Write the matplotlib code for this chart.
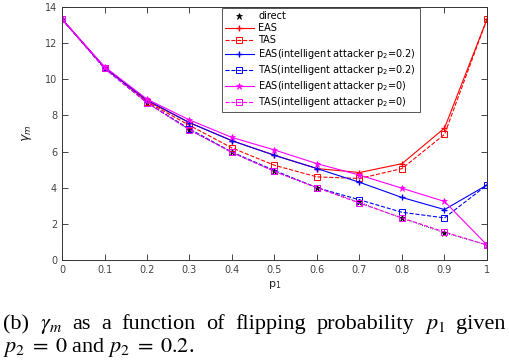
import matplotlib
matplotlib.use("Agg")
import matplotlib.pyplot as plt

p1 = [0, 0.1, 0.2, 0.3, 0.4, 0.5, 0.6, 0.7, 0.8, 0.9, 1.0]
direct = [13.33, 10.65, 8.7, 7.2, 5.95, 4.9, 4.0, 3.2, 2.3, 1.5, 0.83]
eas = [13.33, 10.65, 8.8, 7.6, 6.6, 5.8, 5.06, 4.84, 5.33, 7.3, 13.33]
tas = [13.33, 10.65, 8.75, 7.45, 6.2, 5.24, 4.6, 4.51, 5.06, 6.95, 13.33]
eas_p02 = [13.33, 10.65, 8.85, 7.6, 6.6, 5.79, 5.06, 4.3, 3.46, 2.79, 4.15]
tas_p02 = [13.33, 10.6, 8.7, 7.25, 5.97, 4.95, 4.0, 3.33, 2.64, 2.33, 4.15]
eas_p0 = [13.33, 10.7, 8.9, 7.75, 6.78, 6.09, 5.33, 4.7, 3.97, 3.24, 0.83]
tas_p0 = [13.33, 10.6, 8.7, 7.2, 5.95, 4.9, 4.0, 3.15, 2.33, 1.55, 0.83]

labels = ["direct", "EAS", "TAS",
          "EAS(intelligent attacker p$_2$=0.2)",
          "TAS(intelligent attacker p$_2$=0.2)",
          "EAS(intelligent attacker p$_2$=0)",
          "TAS(intelligent attacker p$_2$=0)"]
xticklabels = ['0', '0.1', '0.2', '0.3', '0.4', '0.5', '0.6', '0.7', '0.8', '0.9', '1']
caption_words = ["(b)", r"$\gamma_m$", "as", "a", "function", "of", "flipping",
                 "probability", r"$p_1$", "given"]
caption_line2 = r"$p_2\;=\;0$ and $p_2\;=\;0.2$."

W, H = 510, 360
fig = plt.figure(figsize=(W/100, H/100), dpi=100)
ax = fig.add_axes([62/W, 1-260/H, (487-62)/W, (260-7)/H])

lw = 0.8
ax.plot(p1, direct, color='k', lw=0.6, ls=':')
ax.plot(p1, direct, color='k', ls='none', marker='*', ms=4.5, mew=0.5, label=labels[0])
ax.plot(p1, eas, color='red', lw=lw, ls='-', marker='+', ms=5, label=labels[1])
ax.plot(p1, tas, color='red', lw=lw, ls='--', marker='s', ms=4, mfc='none', mew=0.7, label=labels[2])
ax.plot(p1, eas_p02, color='blue', lw=lw, ls='-', marker='+', ms=5, label=labels[3])
ax.plot(p1, tas_p02, color='blue', lw=lw, ls='--', marker='s', ms=4, mfc='none', mew=0.7, label=labels[4])
ax.plot(p1, eas_p0, color='magenta', lw=lw, ls='-', marker='*', ms=4.5, mew=0.5, label=labels[5])
ax.plot(p1, tas_p0, color='magenta', lw=lw, ls='--', marker='s', ms=4, mfc='none', mew=0.7, label=labels[6])

ax.set_xlim(0, 1)
ax.set_ylim(0, 14)
ax.set_xticks(p1)
ax.set_xticklabels(xticklabels)
ax.set_yticks(range(0, 15, 2))
ax.tick_params(direction='in', top=True, right=True, labelsize=7, colors='#444444', length=4, width=0.7)
for s in ax.spines.values():
    s.set_color('#333333')
    s.set_linewidth(0.7)
ax.set_xlabel('p$_1$', fontsize=8, color='#222222', labelpad=3)
ax.set_ylabel(r'$\gamma_m$', fontsize=9, color='#222222', labelpad=8)

leg = ax.legend(loc='upper left', bbox_to_anchor=((222-62)/(487-62), 1-1/253),
                fontsize=7, frameon=True, fancybox=False, edgecolor='#555555',
                handlelength=2.9, borderpad=0.35, labelspacing=0.2, handletextpad=0.5,
                borderaxespad=0, framealpha=1)
leg.get_frame().set_linewidth(0.7)

# Caption: first line justified between x0 and x1 like the typeset original
fs = 16
x0, x1 = 3, 506
renderer = fig.canvas.get_renderer()
texts = []
widths = []
for w in caption_words:
    t = fig.text(0, 1-329/H, w, fontsize=fs, family='Liberation Serif',
                 math_fontfamily='stix', ha='left', va='baseline')
    texts.append(t)
    widths.append(t.get_window_extent(renderer).width)
gap = (x1 - x0 - sum(widths)) / (len(widths) - 1)
x = x0
for t, wd in zip(texts, widths):
    t.set_x(x / W)
    x += wd + gap

fig.text(x0/W, 1-352/H, caption_line2, fontsize=fs, family='Liberation Serif',
         math_fontfamily='stix', ha='left', va='baseline')

fig.savefig('out.png', dpi=100)
